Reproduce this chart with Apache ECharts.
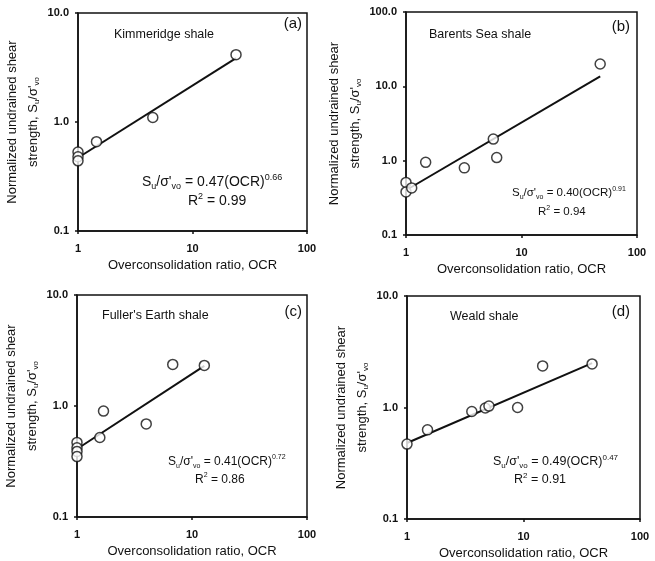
<!DOCTYPE html>
<html>
<head>
<meta charset="utf-8">
<script src="https://cdn.jsdelivr.net/npm/echarts@6/dist/echarts.min.js"></script>
<style>
  html, body { margin: 0; padding: 0; background: #fff; }
  #chart { width: 655px; height: 561px; }
</style>
</head>
<body>
<div id="chart"></div>
<script>
// (a) Kimmeridge shale
const ocrA = [1, 1, 1, 1.45, 4.5, 24];
const suA = [0.53, 0.48, 0.44, 0.66, 1.1, 4.15];
const fitA = [[1, 0.47], [24, 3.85]];

// (b) Barents Sea shale
const ocrB = [1, 1, 1.12, 1.48, 3.2, 5.7, 6.1, 48];
const suB = [0.51, 0.38, 0.43, 0.95, 0.8, 1.95, 1.1, 20];
const fitB = [[1, 0.4], [48, 13.6]];

// (c) Fuller's Earth shale
const ocrC = [1, 1, 1, 1, 1.58, 1.7, 4.0, 6.8, 12.8];
const suC = [0.47, 0.42, 0.39, 0.35, 0.52, 0.9, 0.69, 2.37, 2.32];
const fitC = [[1, 0.41], [12.8, 2.3]];

// (d) Weald shale
const ocrD = [1, 1.5, 3.6, 4.7, 5.05, 8.9, 14.6, 38.8];
const suD = [0.47, 0.63, 0.92, 0.99, 1.03, 1.0, 2.36, 2.46];
const fitD = [[1, 0.48], [38.8, 2.5]];

const xTicks = ["1", "10", "100"];

const panels = [
  { ocr: ocrA, su: suA, fit: fitA, yMax: 10, grid: { left: 78, top: 13, width: 229, height: 218 } },
  { ocr: ocrB, su: suB, fit: fitB, yMax: 100, grid: { left: 406, top: 12, width: 231, height: 223 } },
  { ocr: ocrC, su: suC, fit: fitC, yMax: 10, grid: { left: 77, top: 295, width: 230, height: 222 } },
  { ocr: ocrD, su: suD, fit: fitD, yMax: 10, grid: { left: 407, top: 296, width: 233, height: 223 } },
];

const font = "Liberation Sans, Arial, sans-serif";
const ink = "#111";

const yName = "{m|Normalized undrained shear}\n{m|strength, S}{sb|u}{m|/σ'}{sb|vo}";
const yNameRich = {
  m: { fontSize: 13, fontFamily: font, color: ink, lineHeight: 21, verticalAlign: "middle" },
  sb: { fontSize: 8, fontFamily: font, color: ink, lineHeight: 21, verticalAlign: "bottom", padding: [0, 0, 3, 0] },
};

function formulaRich(size) {
  const small = Math.round(size * 0.62);
  return {
    m: { fontSize: size, fontFamily: font, fill: ink, lineHeight: size + 6, verticalAlign: "middle" },
    sb: { fontSize: small, fontFamily: font, fill: ink, lineHeight: size + 6, verticalAlign: "bottom", padding: [0, 0, 1, 0] },
    sp: { fontSize: small, fontFamily: font, fill: ink, lineHeight: size + 6, verticalAlign: "top", padding: [1, 0, 0, 0] },
  };
}

const notes = [
  { name: "Kimmeridge shale", tag: "(a)", eq: "0.47(OCR)", pw: "0.66", r2: "0.99", size: 14,
    nameXY: [114, 35], tagXY: [302, 24], eqXY: [142, 182], r2XY: [188, 201] },
  { name: "Barents Sea shale", tag: "(b)", eq: "0.40(OCR)", pw: "0.91", r2: "0.94", size: 11.5,
    nameXY: [429, 35], tagXY: [630, 27], eqXY: [512, 193], r2XY: [538, 212] },
  { name: "Fuller's Earth shale", tag: "(c)", eq: "0.41(OCR)", pw: "0.72", r2: "0.86", size: 12,
    nameXY: [102, 316], tagXY: [302, 312], eqXY: [168, 462], r2XY: [195, 480] },
  { name: "Weald shale", tag: "(d)", eq: "0.49(OCR)", pw: "0.47", r2: "0.91", size: 12.5,
    nameXY: [450, 317], tagXY: [630, 312], eqXY: [493, 462], r2XY: [514, 480] },
];

const graphic = [];
notes.forEach((n) => {
  graphic.push({
    type: "text", x: n.nameXY[0], y: n.nameXY[1],
    style: { text: n.name, font: "12.5px " + font, fill: ink, verticalAlign: "middle" },
  });
  graphic.push({
    type: "text", x: n.tagXY[0], y: n.tagXY[1],
    style: { text: n.tag, font: "15px " + font, fill: ink, align: "right", verticalAlign: "middle" },
  });
  graphic.push({
    type: "text", x: n.eqXY[0], y: n.eqXY[1],
    style: {
      text: "{m|S}{sb|u}{m|/σ'}{sb|vo}{m| = " + n.eq + "}{sp|" + n.pw + "}",
      rich: formulaRich(n.size), verticalAlign: "middle",
    },
  });
  graphic.push({
    type: "text", x: n.r2XY[0], y: n.r2XY[1],
    style: {
      text: "{m|R}{sp|2}{m| = " + n.r2 + "}",
      rich: formulaRich(n.size), verticalAlign: "middle",
    },
  });
});

const chart = echarts.init(document.getElementById("chart"), null, { renderer: "canvas" });

chart.setOption({
  animation: false,
  backgroundColor: "#fff",
  grid: panels.map((p) => Object.assign({ show: true, borderColor: ink, borderWidth: 1.5, backgroundColor: "transparent" }, p.grid)),
  xAxis: panels.map((p, i) => ({
    type: "log",
    logBase: 10,
    gridIndex: i,
    min: 1,
    max: 100,
    name: "Overconsolidation ratio, OCR",
    nameLocation: "middle",
    nameGap: 28,
    nameTextStyle: { fontSize: 13, fontFamily: font, color: ink },
    axisLine: { lineStyle: { color: ink, width: 1.5 } },
    axisTick: { length: 3, lineStyle: { color: ink, width: 1.5 } },
    axisLabel: {
      fontSize: 11, fontWeight: "bold", fontFamily: font, color: ink, margin: 12,
      formatter: (v) => xTicks[Math.round(Math.log10(v))],
    },
    splitLine: { show: false },
    minorTick: { show: false },
  })),
  yAxis: panels.map((p, i) => ({
    type: "log",
    logBase: 10,
    gridIndex: i,
    min: 0.1,
    max: p.yMax,
    name: yName,
    nameLocation: "middle",
    nameRotate: 90,
    nameGap: 33,
    nameTextStyle: { rich: yNameRich },
    axisLine: { lineStyle: { color: ink, width: 1.5 } },
    axisTick: { length: 3, lineStyle: { color: ink, width: 1.5 } },
    axisLabel: {
      fontSize: 11, fontWeight: "bold", fontFamily: font, color: ink, margin: 9,
      formatter: (v) => Number(v).toFixed(1),
    },
    splitLine: { show: false },
  })),
  series: panels.flatMap((p, i) => [
    {
      type: "line",
      xAxisIndex: i,
      yAxisIndex: i,
      data: p.fit,
      symbol: "none",
      lineStyle: { color: ink, width: 2 },
      z: 2,
    },
    {
      type: "scatter",
      xAxisIndex: i,
      yAxisIndex: i,
      data: p.ocr.map((x, k) => [x, p.su[k]]),
      symbol: "circle",
      symbolSize: 10,
      itemStyle: { color: "#fff", borderColor: ink, borderWidth: 1.5 },
      z: 3,
    },
  ]),
  graphic: graphic,
});
</script>
</body>
</html>
